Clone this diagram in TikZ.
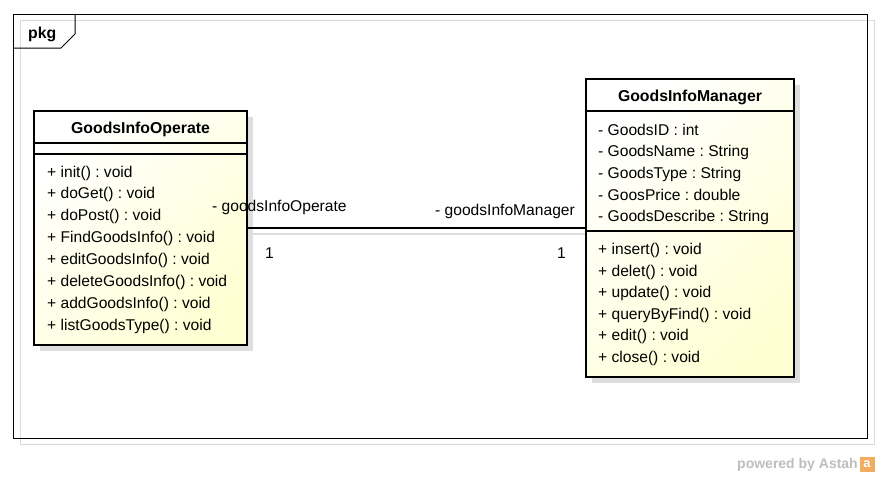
\documentclass[tikz,border=0pt]{standalone}
\usepackage{fontspec}
\setmainfont{Liberation Sans}
\usetikzlibrary{positioning}
\usetikzlibrary{shadows}
\definecolor{classfill}{RGB}{255,255,212}
\definecolor{astahgray}{RGB}{190,190,190}
\definecolor{astahorange}{RGB}{242,172,96}
\frenchspacing
\tikzset{umlclass/.style={rectangle,draw=black,line width=2.6pt,top color=white,bottom color=classfill,shading angle=45,general shadow={fill=black!13,shadow xshift=6pt,shadow yshift=-6pt}}}
\tikzset{compartment/.style={draw=black,line width=1.1pt}}
\tikzset{member/.style={anchor=base west,inner sep=0pt,font=\fontsize{15.6}{18}\selectfont}}
\tikzset{classname/.style={inner sep=0pt,font=\bfseries\fontsize{15.8}{18}\selectfont}}
\tikzset{link/.style={draw=black,line width=1.1pt}}
\tikzset{linkshadow/.style={draw=black!13,line width=1.1pt}}

\begin{document}
\begin{tikzpicture}[x=1pt,y=-1pt]
  \fill[white] (0,0) rectangle (880,477);
  \useasboundingbox (0,0) rectangle (880,477);

  % package frame
  \draw[black!15,line width=1pt] (20,20) rectangle (874,444);
  \draw[line width=1pt] (13,14) rectangle (867,438);
  \draw[line width=1pt] (13,48) -- (61,48) -- (75,34) -- (75,14);
  \node [classname,anchor=base west] (pkg) at (28,38) {pkg};

  % association shadow
  \draw[linkshadow] (253,234) -- (593,234);

  % GoodsInfoOperate
  \node [umlclass,minimum width=213pt,minimum height=234pt] (op) at (140.5,228) {};
  \node [classname] (opname) at (140.5,129) {GoodsInfoOperate};
  \draw[compartment] (35,143) -- (246,143);
  \draw[compartment] (35,154) -- (246,154);
  \foreach \m [count=\i from 0] in {+ init() : void, + doGet() : void,
      + doPost() : void, + FindGoodsInfo() : void, + editGoodsInfo() : void,
      + deleteGoodsInfo() : void, + addGoodsInfo() : void,
      + listGoodsType() : void}
    \node [member] (op-op\i) at (47,{177+21.9*\i}) {\m};

  % GoodsInfoManager
  \node [umlclass,minimum width=208pt,minimum height=298pt] (mgr) at (690,228) {};
  \node [classname] (mgrname) at (690,97) {GoodsInfoManager};
  \draw[compartment] (587,111) -- (793,111);
  \draw[compartment] (587,231) -- (793,231);
  \foreach \m [count=\i from 0] in {- GoodsID : int, - GoodsName : String,
      - GoodsType : String, - GoosPrice : double, - GoodsDescribe : String}
    \node [member] (mgr-at\i) at (598,{135+21.7*\i}) {\m};
  \foreach \m [count=\i from 0] in {+ insert() : void, + delet() : void,
      + update() : void, + queryByFind() : void, + edit() : void,
      + close() : void}
    \node [member] (mgr-op\i) at (598,{254.5+21.6*\i}) {\m};

  % association
  \draw[link] (op.east) -- (mgr.west);
  \node [member] (oprole) at (212,211) {- goodsInfoOperate};
  \node [member] (opmult) at (265,258) {1};
  \node [member] (mgrrole) at (435,215) {- goodsInfoManager};
  \node [member] (mgrmult) at (557,258) {1};

  % footer
  \node [anchor=base east,inner sep=0pt,text=astahgray,font=\bfseries\fontsize{14}{16}\selectfont] (powered) at (858,468) {powered by Astah};
  \node [fill=astahorange,minimum size=15pt,inner sep=0pt,text=white,font=\bfseries\fontsize{13}{15}\selectfont] (logo) at (867,464.5) {a};
\end{tikzpicture}
\end{document}
